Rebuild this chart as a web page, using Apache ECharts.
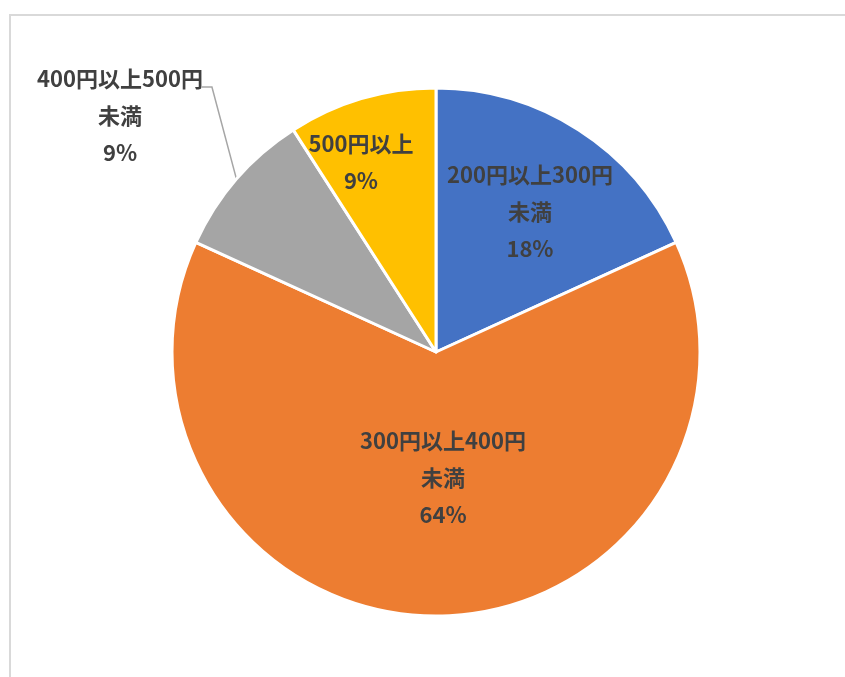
<!DOCTYPE html>
<html>
<head>
<meta charset="utf-8">
<script src="https://cdn.jsdelivr.net/npm/echarts@6/dist/echarts.min.js"></script>
<style>
html,body{margin:0;padding:0;background:#fff;}
#main{width:845px;height:677px;}
</style>
</head>
<body>
<div id="main"></div>
<script>
// ---- data ----
var categories = ["200円以上300円未満", "300円以上400円未満", "400円以上500円未満", "500円以上"];
var values = [2, 7, 1, 1];

// ---- style ----
var colors = ["#4472C4", "#ED7D31", "#A5A5A5", "#FFC000"];
var labelOffsets = [[21, -27], [7, -9], null, [-37, -60]];
var outsideIndex = 2;
var outsideLabelPos = [120, 116];

var chart = echarts.init(document.getElementById('main'));

var data = categories.map(function (c, i) {
  var item = { name: c, value: values[i], itemStyle: { color: colors[i] } };
  if (i === outsideIndex) {
    item.label = { position: 'outside' };
    item.labelLine = { show: true };
  }
  return item;
});

var labelStyle = {
  show: true,
  position: 'inside',
  formatter: function (p) {
    return p.name.replace('未満', '\n未満') + '\n' + Math.round(p.percent) + '%';
  },
  fontFamily: '"Noto Sans CJK JP", sans-serif',
  fontWeight: 'bold',
  fontSize: 22,
  lineHeight: 37,
  color: '#404040',
  align: 'center'
};

chart.setOption({
  animation: false,
  backgroundColor: '#ffffff',
  graphic: [{
    type: 'rect',
    shape: { x: 10, y: 15, width: 1000, height: 1000 },
    style: { fill: 'none', stroke: '#d9d9d9', lineWidth: 2 },
    silent: true
  }],
  series: [{
    type: 'pie',
    center: [436, 352],
    radius: [0, 264],
    startAngle: 90,
    clockwise: true,
    avoidLabelOverlap: false,
    itemStyle: { borderColor: '#ffffff', borderWidth: 3 },
    label: labelStyle,
    labelLine: { show: false, lineStyle: { color: '#a6a6a6', width: 1.5 }, length: 20, length2: 10 },
    labelLayout: function (p) {
      var i = p.dataIndex;
      if (i === outsideIndex) {
        var cx = outsideLabelPos[0], cy = outsideLabelPos[1];
        var endX = cx + p.labelRect.width / 2 - 1;
        var endY = cy - 29;
        var start = p.labelLinePoints ? p.labelLinePoints[0] : [236, 178];
        return {
          x: cx, y: cy, align: 'center', verticalAlign: 'middle',
          labelLinePoints: [start, [endX + 10, endY], [endX, endY]]
        };
      }
      var o = labelOffsets[i];
      return { dx: o[0], dy: o[1] };
    },
    emphasis: { disabled: true },
    data: data
  }]
});
</script>
</body>
</html>
